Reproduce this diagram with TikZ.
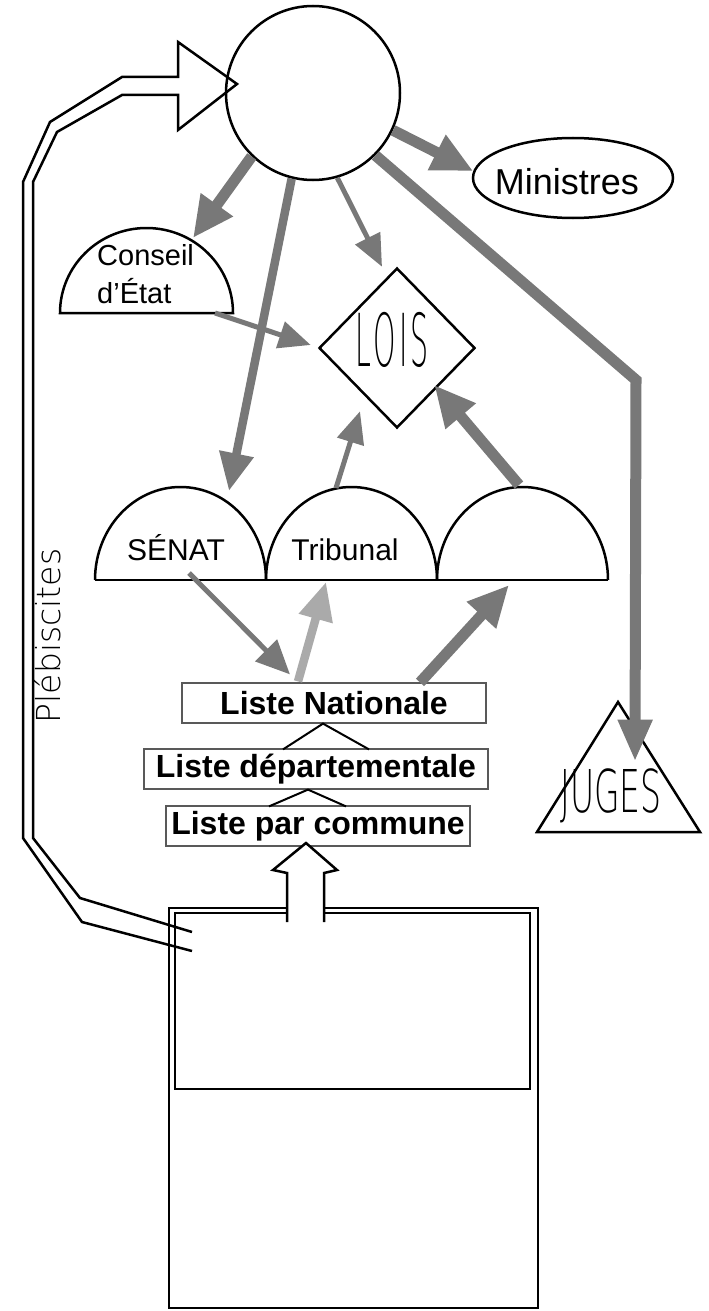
\documentclass[tikz,border=0pt]{standalone}
\usepackage{fontspec}
\setmainfont{Liberation Sans}
\newfontfamily\leger{DejaVu Sans ExtraLight}
\usetikzlibrary{arrows.meta,shapes.geometric,calc,positioning}

\definecolor{grisfonce}{HTML}{787878}
\definecolor{grisclair}{HTML}{AAAAAA}

\begin{document}
\begin{tikzpicture}[x=1pt,y=-1pt,
                    every node/.style={inner sep=0pt},
                    contour/.style={draw=black,line width=2.5pt},
                    liste/.style={draw=black!65,line width=1.2pt,minimum height=40pt,font=\bfseries\fontsize{32}{32}\selectfont},
                    salle/.style={font=\fontsize{30}{38}\selectfont},
                    fine/.style={grisfonce,line width=5pt,-{Triangle[length=32pt,width=27pt]}},
                    moyenne/.style={grisfonce,line width=8.5pt,-{Triangle[length=38pt,width=33pt]}},
                    epaisse/.style={grisfonce,line width=11pt,-{Triangle[length=41pt,width=37pt]}}
]
\useasboundingbox (0,0) rectangle (709,1311);

% Draw the circle, the ministers and the laws
\node [circle,contour,minimum size=174pt] at (313,93) (consul) {};
\node [ellipse,contour,minimum width=200pt,minimum height=80pt] at (573,178) (ministres) {};
\node [font=\fontsize{36}{36}\selectfont] at ($(ministres)+(-6,4)$) (ministres-texte) {Ministres};
\node [diamond,contour,minimum width=156pt,minimum height=160pt] at (397,348) (lois) {};
\node at ($(lois)+(-5,-8)$) (lois-texte) {\scalebox{0.39}[1]{\leger\fontsize{73}{73}\selectfont L\kern5pt O\kern9pt I\kern6pt S}};

% Draw the domes
\draw [contour] (60,313) arc[start angle=180,end angle=360,x radius=86.5,y radius=85] -- cycle;
\node [font=\fontsize{29}{38}\selectfont,align=left,anchor=west] at (97,274) (conseil) {Conseil\\d’État};
\foreach \cx in {180.5,351.5,522.5}
  \draw [contour] ({\cx-85.5},580) arc[start angle=180,end angle=360,x radius=85.5,y radius=93];
\draw [contour] (95,580) -- (608,580);
\node [salle] at (176,548) (senat) {SÉNAT};
\node [salle] at (345,550) (tribunal) {Tribunal};

% Draw the judges
\draw [contour] (618,702) -- (700,832) -- (537,832) -- cycle;
\node at (611,796) (juges) {\scalebox{0.56}[1]{\leger\fontsize{59}{59}\selectfont JUGES}};

% Draw the lists
\node [liste,minimum width=304pt] at (334,703) (nationale) {Liste Nationale};
\node [liste,minimum width=344pt] at (316,769) (departementale) {Liste départementale};
\node [liste,minimum width=304pt] at (318,826) (commune) {Liste par commune};
\draw [line width=2pt] ($(departementale.north)+(-33,1)$) -- ($(nationale.south)+(-11,0)$) -- ($(departementale.north)+(53,1)$);
\draw [line width=2pt] ($(commune.north)+(-49,1)$) -- ($(departementale.south)+(-8,0)$) -- ($(commune.north)+(28,1)$);

% Draw the ballot box
\node [contour,minimum width=369pt,minimum height=400pt] at (353.5,1108) (urne) {};
\node [contour,minimum width=355pt,minimum height=176pt] at (352.5,1001) (peuple) {};
\filldraw [contour,fill=white] (287,922) -- (287,873) -- (273,870) -- (306,843) -- (337,870) -- (324,873) -- (324,922);

% Draw the plebiscite arrow back to the circle
\draw [contour] (192,951) -- (82,922) -- (23,838) -- (23,182) -- (50,122) -- (122,77) -- (178,77) -- (178,42)
  -- (237,84) -- (178,130) -- (178,95) -- (122,95) -- (57,132) -- (33,182) -- (33,838) -- (80,898) -- (192,932);
\node [rotate=90,font=\leger\fontsize{33}{33}\selectfont] at (48,636) (plebiscites) {Plébiscites};

% End points on the domes
\coordinate (conseil-haut) at (193,238);
\coordinate (conseil-bas) at (215,313);
\coordinate (senat-haut) at (229,491);
\coordinate (senat-bas) at (189,573);
\coordinate (tribunal-haut) at (336,488);
\coordinate (tribunal-bas) at (326,582);
\coordinate (corps-haut) at (519,485);
\coordinate (corps-bas) at (509,585);
\coordinate (coude) at (636,380);

% Draw the gray arrows
\draw [epaisse] (consul.226) -- (conseil-haut);
\draw [moyenne] (consul.256) -- (senat-haut);
\draw [fine] (consul.286) -- ($(lois.north)+(-15,0)$);
\draw [epaisse] (consul.335) -- (ministres.176);
\draw [epaisse,-{Triangle[length=42pt,width=32pt]}] (consul.315) -- (coude) -- ($(juges.north)+(24,-7)$);
\draw [fine] (conseil-bas) -- ($(lois.west)+(-7,-3)$);
\draw [fine] (tribunal-haut) -- ($(lois.south)+(-37,-18)$);
\draw [epaisse] (corps-haut) -- ($(lois.east)+(-42,37)$);
\draw [fine,-{Triangle[length=34pt,width=30pt]}] (senat-bas) -- ($(nationale.north)+(-44,-8)$);
\draw [moyenne,grisclair] ($(nationale.north)+(-36,-1)$) -- (tribunal-bas);
\draw [epaisse] ($(nationale.north)+(86,0)$) -- (corps-bas);

\end{tikzpicture}
\end{document}
